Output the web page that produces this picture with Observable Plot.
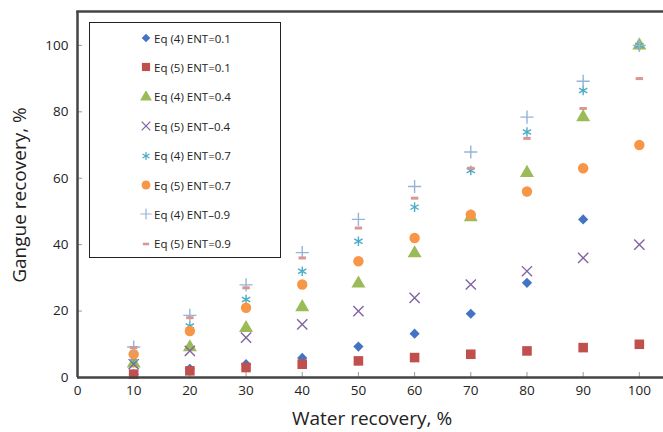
<!DOCTYPE html>
<html>
<head>
<meta charset="utf-8">
<script src="https://cdn.jsdelivr.net/npm/d3@7"></script>
<script src="https://cdn.jsdelivr.net/npm/@observablehq/plot@0.6"></script>
<style>
  html, body { margin: 0; padding: 0; background: #fff; }
  #wrap { position: relative; width: 663px; height: 432px; overflow: hidden; font-family: "Open Sans", sans-serif; }
  #legend { position: absolute; left: 89px; top: 22px; width: 190px; height: 234px; border: 1.5px solid #222; background: #fff; }
  .row { position: absolute; left: 0; height: 20px; display: flex; align-items: center; font-size: 11.5px; color: #222; }
  .row svg { margin-left: 50px; margin-right: 2px; }
</style>
</head>
<body>
<div id="wrap"></div>
<script>
const water = [10, 20, 30, 40, 50, 60, 70, 80, 90, 100];
const eq4_01 = [1, 2.6, 4, 5.9, 9.3, 13.2, 19.2, 28.5, 47.6, 100];
const eq5_01 = [1, 2, 3, 4, 5, 6, 7, 8, 9, 10];
const eq4_04 = [4.2, 9.1, 14.9, 21.2, 28.3, 37.4, 48.3, 61.6, 78.4, 100];
const eq5_04 = [4, 8, 12, 16, 20, 24, 28, 32, 36, 40];
const eq4_07 = [5.8, 15.5, 23.5, 32, 41, 51.3, 62.3, 73.9, 86.4, 100];
const eq5_07 = [7, 14, 21, 28, 35, 42, 49, 56, 63, 70];
const eq4_09 = [9.2, 18.7, 27.9, 37.6, 47.6, 57.5, 67.9, 78.4, 89.2, 100];
const eq5_09 = [9, 18, 27, 36, 45, 54, 63, 72, 81, 90];
const xTicks = [0, 10, 20, 30, 40, 50, 60, 70, 80, 90, 100];
const yTicks = [0, 20, 40, 60, 80, 100];

const dash = { draw(ctx, size) { const w = Math.sqrt(size) * 0.75, h = w * 0.4; ctx.rect(-w / 2, -h / 2, w, h); } };

const series = [
  { label: "Eq (4) ENT=0.1", values: eq4_01, symbol: "diamond2", color: "#4472C4", filled: true, r: 4.6 },
  { label: "Eq (5) ENT=0.1", values: eq5_01, symbol: "square", color: "#C0504D", filled: true, r: 5.4 },
  { label: "Eq (4) ENT=0.4", values: eq4_04, symbol: "triangle", color: "#9BBB59", filled: true, r: 5.2 },
  { label: "Eq (5) ENT\u20130.4", values: eq5_04, symbol: "times", color: "#8064A2", filled: false, r: 4.7 },
  { label: "Eq (4) ENT=0.7", values: eq4_07, symbol: "asterisk", color: "#4BACC6", filled: false, r: 4.5 },
  { label: "Eq (5) ENT=0.7", values: eq5_07, symbol: "circle", color: "#F79646", filled: true, r: 5.2 },
  { label: "Eq (4) ENT\u20130.9", values: eq4_09, symbol: "plus", color: "#95B3D7", filled: false, r: 4.3 },
  { label: "Eq (5) ENT=0.9", values: eq5_09, symbol: dash, color: "#D99694", filled: true, r: 5.6 }
];

const marks = [];
for (const s of series) {
  const data = water.map((w, i) => ({ x: w, y: s.values[i] }));
  marks.push(Plot.dot(data, s.filled
    ? { x: "x", y: "y", symbol: () => s.symbol, r: s.r, fill: s.color, stroke: "none" }
    : { x: "x", y: "y", symbol: () => s.symbol, r: s.r, stroke: s.color, strokeWidth: 1.4, fill: "none" }));
}

const chart = Plot.plot({
  width: 663,
  height: 432,
  marginLeft: 77,
  marginRight: 0,
  marginTop: 11,
  marginBottom: 55,
  style: { fontFamily: "Open Sans, sans-serif", background: "#fff" },
  symbol: { type: "identity" },
  x: { domain: [0, 104.3] },
  y: { domain: [0, 110.2] },
  marks: [
    Plot.axisX(xTicks, { tickSize: 5, dy: -5, stroke: "#999", text: null, label: null }),
    Plot.axisX(xTicks, { tickSize: 0, tickPadding: 8, fontSize: 13.5, fill: "#222", label: null }),
    Plot.axisY(yTicks, { tickSize: 5, dx: 5, stroke: "#999", text: null, label: null }),
    Plot.axisY(yTicks, { tickSize: 0, tickPadding: 9, fontSize: 13.5, fill: "#222", label: null }),
    ...marks,
    Plot.ruleX([0], { stroke: "#444", strokeWidth: 2.5 }),
    Plot.ruleY([0], { stroke: "#444", strokeWidth: 2.5 }),
    Plot.frame({ anchor: "top", stroke: "#444", strokeWidth: 2.5 })
  ]
});

const wrap = document.getElementById("wrap");
wrap.appendChild(chart);

// axis titles
const ns = "http://www.w3.org/2000/svg";
const xt = document.createElementNS(ns, "text");
xt.setAttribute("x", 372); xt.setAttribute("y", 425);
xt.setAttribute("text-anchor", "middle"); xt.setAttribute("font-size", 19); xt.setAttribute("fill", "#222");
xt.textContent = "Water recovery, %";
chart.appendChild(xt);
const yt = document.createElementNS(ns, "text");
yt.setAttribute("transform", "translate(26,195) rotate(-90)");
yt.setAttribute("text-anchor", "middle"); yt.setAttribute("font-size", 19); yt.setAttribute("fill", "#222");
yt.textContent = "Gangue recovery, %";
chart.appendChild(yt);

// legend
const symbolTypes = { diamond2: d3.symbolDiamond2, square: d3.symbolSquare, triangle: d3.symbolTriangle, times: d3.symbolTimes, asterisk: d3.symbolAsterisk, circle: d3.symbolCircle, plus: d3.symbolPlus };
const legend = document.createElement("div");
legend.id = "legend";
series.forEach((s, i) => {
  const row = document.createElement("div");
  row.className = "row";
  row.style.top = (5 + i * 29.4) + "px";
  const type = typeof s.symbol === "string" ? symbolTypes[s.symbol] : s.symbol;
  const size = Math.PI * (s.r * 0.85) ** 2;
  const path = d3.symbol(type, size)();
  const svg = document.createElementNS(ns, "svg");
  svg.setAttribute("width", 12); svg.setAttribute("height", 12);
  const p = document.createElementNS(ns, "path");
  p.setAttribute("d", path);
  p.setAttribute("transform", "translate(6,6)");
  if (s.filled) { p.setAttribute("fill", s.color); }
  else { p.setAttribute("fill", "none"); p.setAttribute("stroke", s.color); p.setAttribute("stroke-width", 1.2); }
  svg.appendChild(p);
  row.appendChild(svg);
  const t = document.createElement("span");
  t.textContent = s.label;
  row.appendChild(t);
  legend.appendChild(row);
});
wrap.appendChild(legend);
</script>
</body>
</html>
